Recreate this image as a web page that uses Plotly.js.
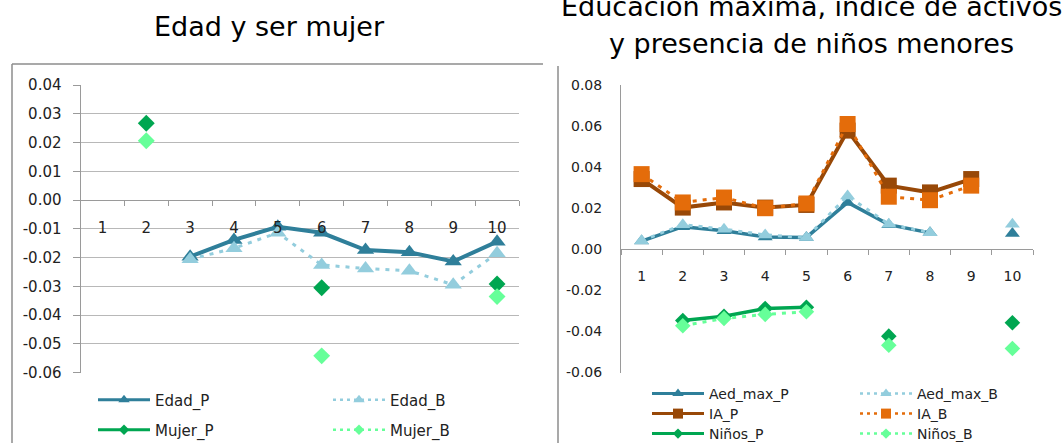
<!DOCTYPE html>
<html>
<head>
<meta charset="utf-8">
<script src="https://cdn.plot.ly/plotly-3.0.1.min.js"></script>
<style>html,body{margin:0;padding:0;background:#fff;}#chart{width:1063px;height:443px;}</style>
</head>
<body>
<div id="chart"></div>
<script>
// ---------- DATA ----------
var categories = ['1','2','3','4','5','6','7','8','9','10'];

// Left chart: Edad y ser mujer
var edadP  = [null, null, -0.0197, -0.0139, -0.0093, -0.0114, -0.0174, -0.0182, -0.0214, -0.0145];
var edadB  = [null, null, -0.0206, -0.0168, -0.0114, -0.0226, -0.0238, -0.0246, -0.0295, -0.0185];
var mujerP = [null, 0.0267, null, null, null, -0.0305, null, null, null, -0.0292];
var mujerB = [null, 0.0206, null, null, null, -0.0542, null, null, null, -0.0336];

// Right chart: Educación máxima, índice de activos y presencia de niños menores
var aedP   = [0.0040, 0.0110, 0.0090, 0.0060, 0.0058, 0.0228, 0.0120, 0.0080, null, 0.0077];
var aedB   = [0.0042, 0.0120, 0.0098, 0.0070, 0.0057, 0.0260, 0.0122, 0.0081, null, 0.0122];
var iaP    = [0.0342, 0.0203, 0.0228, 0.0203, 0.0216, 0.0578, 0.0310, 0.0277, 0.0342, null];
var iaB    = [0.0366, 0.0228, 0.0252, 0.0200, 0.0223, 0.0610, 0.0256, 0.0239, 0.0310, null];
var ninosP = [null, -0.0347, -0.0326, -0.0288, -0.0282, null, -0.0423, null, null, -0.0358];
var ninosB = [null, -0.0372, -0.0337, -0.0317, -0.0304, null, -0.0467, null, null, -0.0483];

var leftTickVals  = [0.04, 0.03, 0.02, 0.01, 0.00, -0.01, -0.02, -0.03, -0.04, -0.05, -0.06];
var leftTickText  = ['0.04','0.03','0.02','0.01','0.00','-0.01','-0.02','-0.03','-0.04','-0.05','-0.06'];
var rightTickVals = [0.08, 0.06, 0.04, 0.02, 0.00, -0.02, -0.04, -0.06];
var rightTickText = ['0.08','0.06','0.04','0.02','0.00','-0.02','-0.04','-0.06'];
var rightGridVals = [0.08, 0.02, -0.02];

var leftTitle   = 'Edad y ser mujer';
var rightTitle1 = 'Educación máxima, índice de activos';
var rightTitle2 = 'y presencia de niños menores';

// ---------- STYLE ----------
var W = 1063, H = 443;
var FONT = 'DejaVu Sans, Verdana, sans-serif';
var cTeal = '#2f7f9a', cLBlue = '#93cddd', cGreen = '#00a651', cLGreen = '#66ff99',
    cBrown = '#984807', cOrange = '#e46c0a';
var dotDash = '4px,6px';
var axisGray = '#9a9a9a', gridGray = '#b8b8b8', tickColor = '#222';

function px2x(p){ return p / W; }
function px2y(p){ return 1 - p / H; }

var leftRange = [-0.06, 0.04], rightRange = [-0.06, 0.08];
var leftXDom  = [px2x(80.5), px2x(519)];
var rightXDom = [px2x(621), px2x(1033)];
var yDom = [px2y(372.5), px2y(85)];
function zeroPos(r){ return yDom[0] + (0 - r[0]) / (r[1] - r[0]) * (yDom[1] - yDom[0]); }

function tr(name, y, xa, ya, color, width, dash, sym, size){
  return {
    type: 'scatter', mode: 'lines+markers', name: name, x: categories, y: y,
    xaxis: xa, yaxis: ya, connectgaps: false, cliponaxis: false,
    line: {color: color, width: width, dash: dash},
    marker: {color: color, symbol: sym, size: size},
    showlegend: false
  };
}
// legend-only entries (a single empty point) so the legend symbols can be smaller than the plotted markers
function lg(name, xa, ya, color, width, dash, sym, size, leg){
  return {
    type: 'scatter', mode: 'lines+markers', name: name, x: [null], y: [null],
    xaxis: xa, yaxis: ya, line: {color: color, width: width, dash: dash},
    marker: {color: color, symbol: sym, size: size}, legend: leg, showlegend: true
  };
}

var data = [
  tr('Edad_P',  edadP,  'x',  'y',  cTeal,   4, 'solid', 'triangle-up', 15),
  tr('Edad_B',  edadB,  'x',  'y',  cLBlue,  3, dotDash, 'triangle-up', 15),
  tr('Mujer_P', mujerP, 'x',  'y',  cGreen,  4, 'solid', 'diamond', 13),
  tr('Mujer_B', mujerB, 'x',  'y',  cLGreen, 3, dotDash, 'diamond', 13),
  tr('Aed_max_P', aedP, 'x2', 'y2', cTeal,   3.5, 'solid', 'triangle-up', 13),
  tr('Aed_max_B', aedB, 'x2', 'y2', cLBlue,  3, dotDash, 'triangle-up', 13),
  tr('IA_P',    iaP,    'x2', 'y2', cBrown,  4, 'solid', 'square', 16),
  tr('IA_B',    iaB,    'x2', 'y2', cOrange, 3, dotDash, 'square', 16),
  tr('Niños_P', ninosP, 'x2', 'y2', cGreen,  3.5, 'solid', 'diamond', 12),
  tr('Niños_B', ninosB, 'x2', 'y2', cLGreen, 3, dotDash, 'diamond', 12),

  lg('Edad_P',    'x',  'y',  cTeal,   3, 'solid', 'triangle-up', 10, 'legend'),
  lg('Edad_B',    'x',  'y',  cLBlue,  2.5, '3px,4px', 'triangle-up', 10, 'legend2'),
  lg('Mujer_P',   'x',  'y',  cGreen,  3, 'solid', 'diamond', 8, 'legend3'),
  lg('Mujer_B',   'x',  'y',  cLGreen, 2.5, '3px,4px', 'diamond', 8, 'legend4'),
  lg('Aed_max_P', 'x2', 'y2', cTeal,   3, 'solid', 'triangle-up', 10, 'legend5'),
  lg('Aed_max_B', 'x2', 'y2', cLBlue,  2.5, '3px,4px', 'triangle-up', 10, 'legend6'),
  lg('IA_P',      'x2', 'y2', cBrown,  3, 'solid', 'square', 10, 'legend7'),
  lg('IA_B',      'x2', 'y2', cOrange, 2.5, '3px,4px', 'square', 10, 'legend8'),
  lg('Niños_P',   'x2', 'y2', cGreen,  3, 'solid', 'diamond', 8, 'legend9'),
  lg('Niños_B',   'x2', 'y2', cLGreen, 2.5, '3px,4px', 'diamond', 8, 'legend10')
];

function xAxis(dom, pos, fs, standoff){
  return {
    domain: dom, type: 'category', range: [-0.5, 9.5], anchor: 'free',
    position: pos, showgrid: false, zeroline: false, showline: true, linecolor: axisGray, linewidth: 1,
    ticks: 'outside', tickson: 'boundaries', ticklen: 5, tickcolor: axisGray,
    ticklabelstandoff: standoff, tickfont: {family: FONT, size: fs, color: tickColor}, fixedrange: true
  };
}
function yAxis(range, vals, text, fs, xname, grid){
  return {
    domain: yDom, range: range, anchor: xname, tickvals: vals, ticktext: text,
    showgrid: grid, gridcolor: gridGray, gridwidth: 1, zeroline: false,
    showline: true, linecolor: axisGray, ticks: grid ? 'outside' : '', ticklen: 7, tickcolor: axisGray,
    ticklabelstandoff: grid ? 8 : 15, tickfont: {family: FONT, size: fs, color: tickColor}, fixedrange: true
  };
}

function leg(xpx, ypx, fs){
  return {x: px2x(xpx), y: px2y(ypx), xanchor: 'left', yanchor: 'middle', bgcolor: 'rgba(0,0,0,0)',
          borderwidth: 0, font: {family: FONT, size: fs, color: tickColor}, itemwidth: 52,
          itemclick: false, itemdoubleclick: false};
}

var layout = {
  width: W, height: H, margin: {l: 0, r: 0, t: 0, b: 0, autoexpand: false}, paper_bgcolor: '#fff', plot_bgcolor: 'rgba(0,0,0,0)',
  showlegend: true,
  xaxis:  xAxis(leftXDom,  zeroPos(leftRange), 15, 14),
  yaxis:  yAxis(leftRange, leftTickVals, leftTickText, 15, 'x', true),
  xaxis2: xAxis(rightXDom, zeroPos(rightRange), 14, 14),
  yaxis2: yAxis(rightRange, rightTickVals, rightTickText, 14, 'x2', false),
  yaxis3: {domain: yDom, range: rightRange, overlaying: 'y2', anchor: 'x2', tickvals: rightGridVals,
           showticklabels: false, showgrid: true, gridcolor: gridGray, gridwidth: 1, zeroline: false,
           showline: false, ticks: 'outside', ticklen: 7, tickcolor: axisGray, fixedrange: true},
  legend:   leg(93, 400, 15),
  legend2:  leg(328, 400, 15),
  legend3:  leg(93, 430, 15),
  legend4:  leg(328, 430, 15),
  legend5:  leg(647, 394, 14),
  legend6:  leg(855, 394, 14),
  legend7:  leg(647, 414, 14),
  legend8:  leg(855, 414, 14),
  legend9:  leg(647, 434, 14),
  legend10: leg(855, 434, 14),
  annotations: [
    {text: leftTitle, xref: 'paper', yref: 'paper', x: px2x(269), y: px2y(26), xanchor: 'center', yanchor: 'middle',
     showarrow: false, font: {family: FONT, size: 27, color: '#000'}},
    {text: rightTitle1, xref: 'paper', yref: 'paper', x: px2x(811), y: px2y(7), xanchor: 'center', yanchor: 'middle',
     showarrow: false, font: {family: FONT, size: 27, color: '#000'}},
    {text: rightTitle2, xref: 'paper', yref: 'paper', x: px2x(811), y: px2y(44), xanchor: 'center', yanchor: 'middle',
     showarrow: false, font: {family: FONT, size: 27, color: '#000'}}
  ],
  shapes: [
    {type: 'line', xref: 'paper', yref: 'paper', x0: px2x(12), x1: px2x(543), y0: px2y(64), y1: px2y(64), line: {color: '#8c8c8c', width: 1.5}},
    {type: 'line', xref: 'paper', yref: 'paper', x0: px2x(12), x1: px2x(12), y0: px2y(64), y1: px2y(450), line: {color: '#8c8c8c', width: 1.5}},
    {type: 'line', xref: 'paper', yref: 'paper', x0: px2x(558), x1: px2x(558), y0: px2y(66), y1: px2y(450), line: {color: '#8c8c8c', width: 1.5}}
  ]
};

Plotly.newPlot('chart', data, layout, {displayModeBar: false, staticPlot: true});
</script>
</body>
</html>
